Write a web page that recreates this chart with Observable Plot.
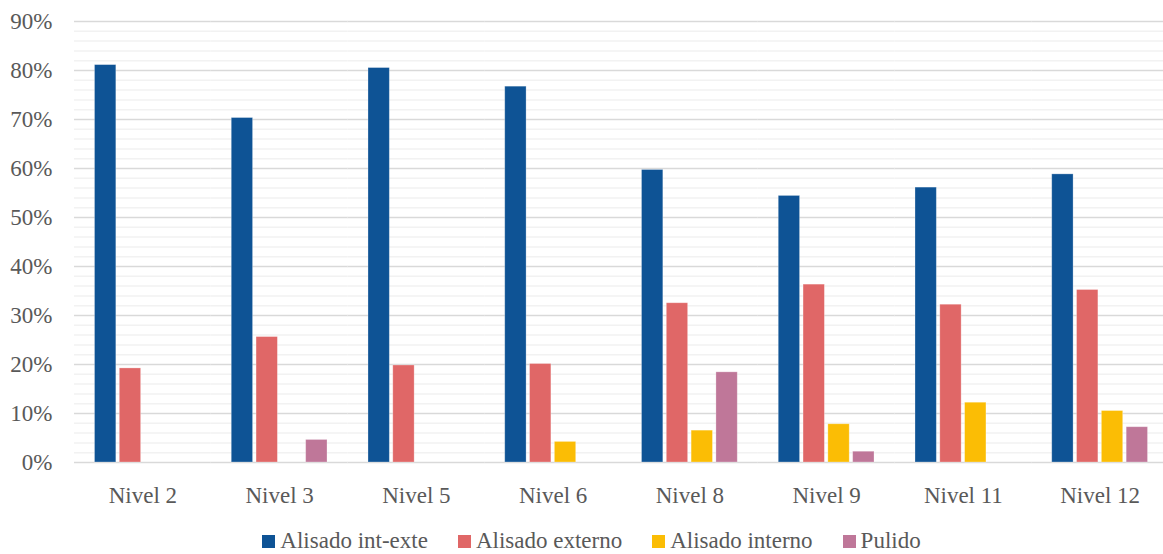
<!DOCTYPE html>
<html>
<head>
<meta charset="utf-8">
<script src="https://cdn.jsdelivr.net/npm/d3@7"></script>
<script src="https://cdn.jsdelivr.net/npm/@observablehq/plot@0.6"></script>
</head>
<body style="margin:0;padding:0;background:white;overflow:hidden;font-family:'Liberation Serif'">
<div id="chart"></div>
<div id="legend" style="display:flex;justify-content:center;align-items:center;margin-top:16px;margin-left:20px;font-size:23px;color:#595959;font-family:'Liberation Serif'"></div>
<script>
const niveles = ["Nivel 2", "Nivel 3", "Nivel 5", "Nivel 6", "Nivel 8", "Nivel 9", "Nivel 11", "Nivel 12"];
const series = ["Alisado int-exte", "Alisado externo", "Alisado interno", "Pulido"];
const colores = ["#0e5395", "#e06767", "#fbbd05", "#bf7799"];
// values per series, aligned with niveles (null = no bar)
const alisadoIntExte = [0.811, 0.703, 0.805, 0.767, 0.597, 0.544, 0.561, 0.588];
const alisadoExterno = [0.192, 0.256, 0.198, 0.201, 0.325, 0.363, 0.322, 0.352];
const alisadoInterno = [null, null, null, 0.042, 0.065, 0.078, 0.122, 0.105];
const pulido = [null, 0.046, null, null, 0.184, 0.022, null, 0.072];
const yTicks = [0, 0.1, 0.2, 0.3, 0.4, 0.5, 0.6, 0.7, 0.8, 0.9];
const yMinorTicks = [0.02,0.04,0.06,0.08,0.12,0.14,0.16,0.18,0.22,0.24,0.26,0.28,0.32,0.34,0.36,0.38,0.42,0.44,0.46,0.48,0.52,0.54,0.56,0.58,0.62,0.64,0.66,0.68,0.72,0.74,0.76,0.78,0.82,0.84,0.86,0.88];

const valuesBySeries = [alisadoIntExte, alisadoExterno, alisadoInterno, pulido];
const data = [];
series.forEach((s, i) => {
  niveles.forEach((n, j) => {
    const v = valuesBySeries[i][j];
    if (v != null) data.push({nivel: n, serie: s, valor: v});
  });
});

const FONT = "Liberation Serif";

const chart = Plot.plot({
  width: 1163,
  height: 512,
  marginTop: 21,
  marginBottom: 50,
  marginLeft: 74,
  marginRight: -5,
  style: {fontFamily: FONT, fontSize: "23px", color: "#595959", background: "white", overflow: "hidden"},
  fx: {domain: niveles, paddingInner: 0, paddingOuter: 0, round: false, label: null, tickSize: 0, tickPadding: 24, axis: "bottom"},
  x: {domain: series, paddingInner: 0.14, paddingOuter: 0.826, round: false, axis: null},
  y: {domain: [0, 0.9], ticks: yTicks, tickFormat: d3.format(".0%"), tickSize: 0, tickPadding: 22, label: null},
  color: {domain: series, range: colores},
  marks: [
    Plot.ruleY(yMinorTicks, {stroke: "#f2f2f2", strokeWidth: 1.5}),
    Plot.ruleY(yTicks, {stroke: "#d9d9d9", strokeWidth: 1.5}),
    Plot.barY(data, {fx: "nivel", x: "serie", y: "valor", fill: "serie", stroke: "white", strokeOpacity: 0.35, strokeWidth: 0.8})
  ]
});
chart.style.display = "block";
chart.querySelectorAll("g").forEach(g => { if (g.getAttribute("font-family")) g.setAttribute("font-family", FONT); });
document.getElementById("chart").appendChild(chart);

const legend = document.getElementById("legend");
series.forEach((s, i) => {
  const item = document.createElement("div");
  item.style.display = "flex";
  item.style.alignItems = "center";
  item.style.margin = "0 15px";
  const sw = document.createElement("div");
  sw.style.width = "13px";
  sw.style.height = "13px";
  sw.style.marginRight = "5px";
  sw.style.background = colores[i];
  const t = document.createElement("span");
  t.textContent = s;
  item.appendChild(sw);
  item.appendChild(t);
  legend.appendChild(item);
});
</script>
</body>
</html>
